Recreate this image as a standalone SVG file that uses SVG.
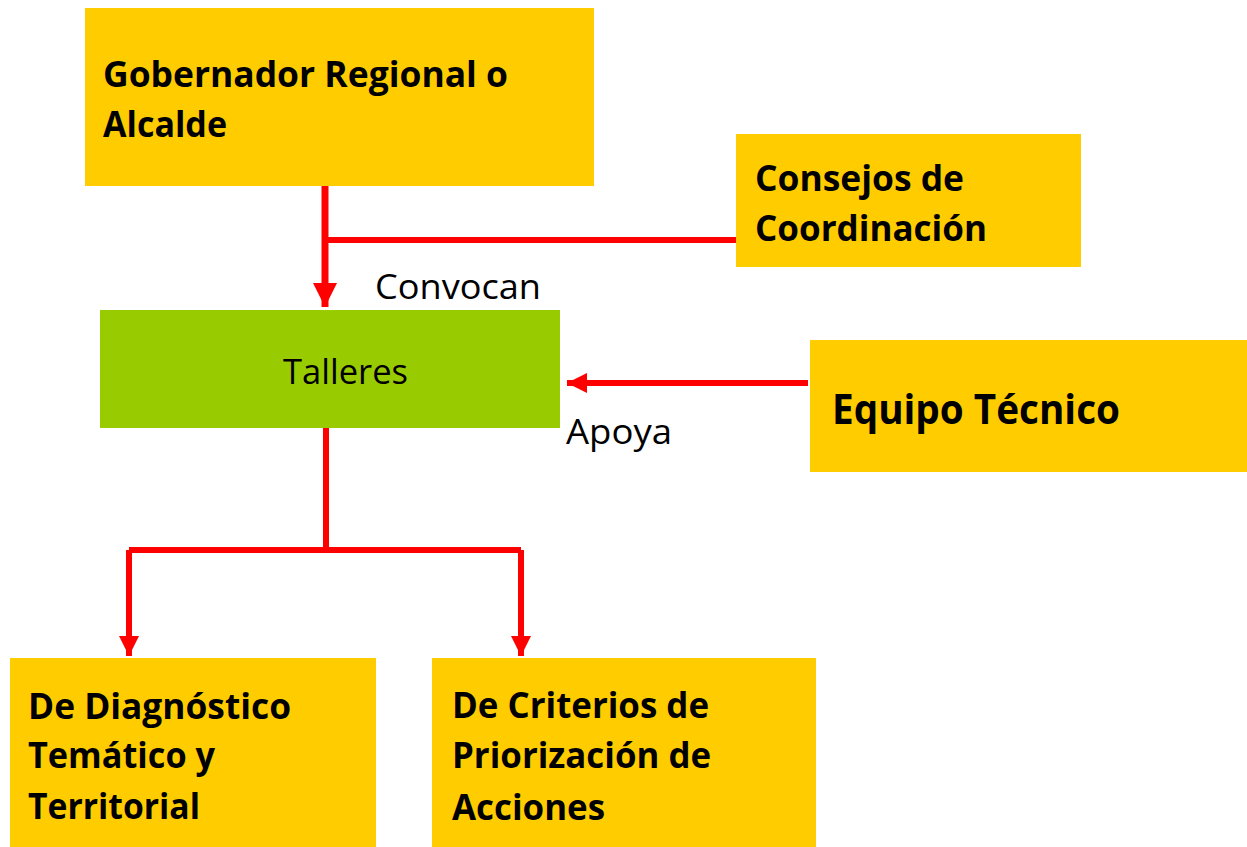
<svg xmlns="http://www.w3.org/2000/svg" width="1247" height="847" viewBox="0 0 1247 847">
<style>
.y{fill:#FFCC00}
.g{fill:#99CC00}
.b{font-family:"Open Sans","Liberation Sans",sans-serif;font-weight:bold;font-size:36px;fill:#000}
.r{font-family:"Open Sans","Liberation Sans",sans-serif;font-size:35px;fill:#000}
.c{stroke:#FF0000;fill:none}
</style>
<defs>
<marker id="ah" markerUnits="userSpaceOnUse" markerWidth="24" markerHeight="24" viewBox="0 0 24 24" refX="24" refY="12" orient="auto">
<path d="M0,0 L24,12 L0,24 Z" fill="#FF0000"/>
</marker>
<marker id="as" markerUnits="userSpaceOnUse" markerWidth="20" markerHeight="20" viewBox="0 0 20 20" refX="20" refY="10" orient="auto">
<path d="M0,0 L20,10 L0,20 Z" fill="#FF0000"/>
</marker>
</defs>
<rect width="1247" height="847" fill="#fff"/>
<g id="connectors">
<line class="c" x1="325" y1="186" x2="325" y2="307" stroke-width="7" marker-end="url(#ah)"/>
<line class="c" x1="325" y1="240" x2="736" y2="240" stroke-width="6"/>
<line class="c" x1="808" y1="383" x2="567" y2="383" stroke-width="6" marker-end="url(#as)"/>
<polyline class="c" points="326,428 326,550" stroke-width="6"/>
<polyline class="c" points="129,550 521,550" stroke-width="6"/>
<line class="c" x1="129" y1="550" x2="129" y2="656" stroke-width="6" marker-end="url(#as)"/>
<line class="c" x1="521" y1="550" x2="521" y2="656" stroke-width="6" marker-end="url(#as)"/>
<text class="r" x="375" y="299" textLength="166" lengthAdjust="spacingAndGlyphs">Convocan</text>
<text class="r" x="566" y="444" textLength="106" lengthAdjust="spacingAndGlyphs">Apoya</text>
</g>
<g id="gobernador">
<rect class="y" x="85" y="8" width="509" height="178"/>
<text class="b" x="103" y="87" textLength="405" lengthAdjust="spacingAndGlyphs">Gobernador Regional o</text>
<text class="b" x="103" y="137" textLength="124" lengthAdjust="spacingAndGlyphs">Alcalde</text>
</g>
<g id="consejos">
<rect class="y" x="736" y="134" width="345" height="133"/>
<text class="b" x="755" y="191" textLength="209" lengthAdjust="spacingAndGlyphs">Consejos de</text>
<text class="b" x="755" y="241" textLength="232" lengthAdjust="spacingAndGlyphs">Coordinación</text>
</g>
<g id="talleres">
<rect class="g" x="100" y="310" width="460" height="118"/>
<text class="r" x="283" y="384" textLength="125" lengthAdjust="spacingAndGlyphs">Talleres</text>
</g>
<g id="equipo">
<rect class="y" x="810" y="340" width="437" height="132"/>
<text class="b" x="832" y="424" style="font-size:41px" textLength="288" lengthAdjust="spacingAndGlyphs">Equipo Técnico</text>
</g>
<g id="diagnostico">
<rect class="y" x="10" y="658" width="366" height="189"/>
<text class="b" x="28" y="719" textLength="263" lengthAdjust="spacingAndGlyphs">De Diagnóstico</text>
<text class="b" x="28" y="768" textLength="187" lengthAdjust="spacingAndGlyphs">Temático y</text>
<text class="b" x="28" y="819" textLength="172" lengthAdjust="spacingAndGlyphs">Territorial</text>
</g>
<g id="criterios">
<rect class="y" x="432" y="658" width="384" height="189"/>
<text class="b" x="452" y="718" textLength="257" lengthAdjust="spacingAndGlyphs">De Criterios de</text>
<text class="b" x="452" y="768" textLength="259" lengthAdjust="spacingAndGlyphs">Priorización de</text>
<text class="b" x="452" y="820" textLength="153" lengthAdjust="spacingAndGlyphs">Acciones</text>
</g>
</svg>
